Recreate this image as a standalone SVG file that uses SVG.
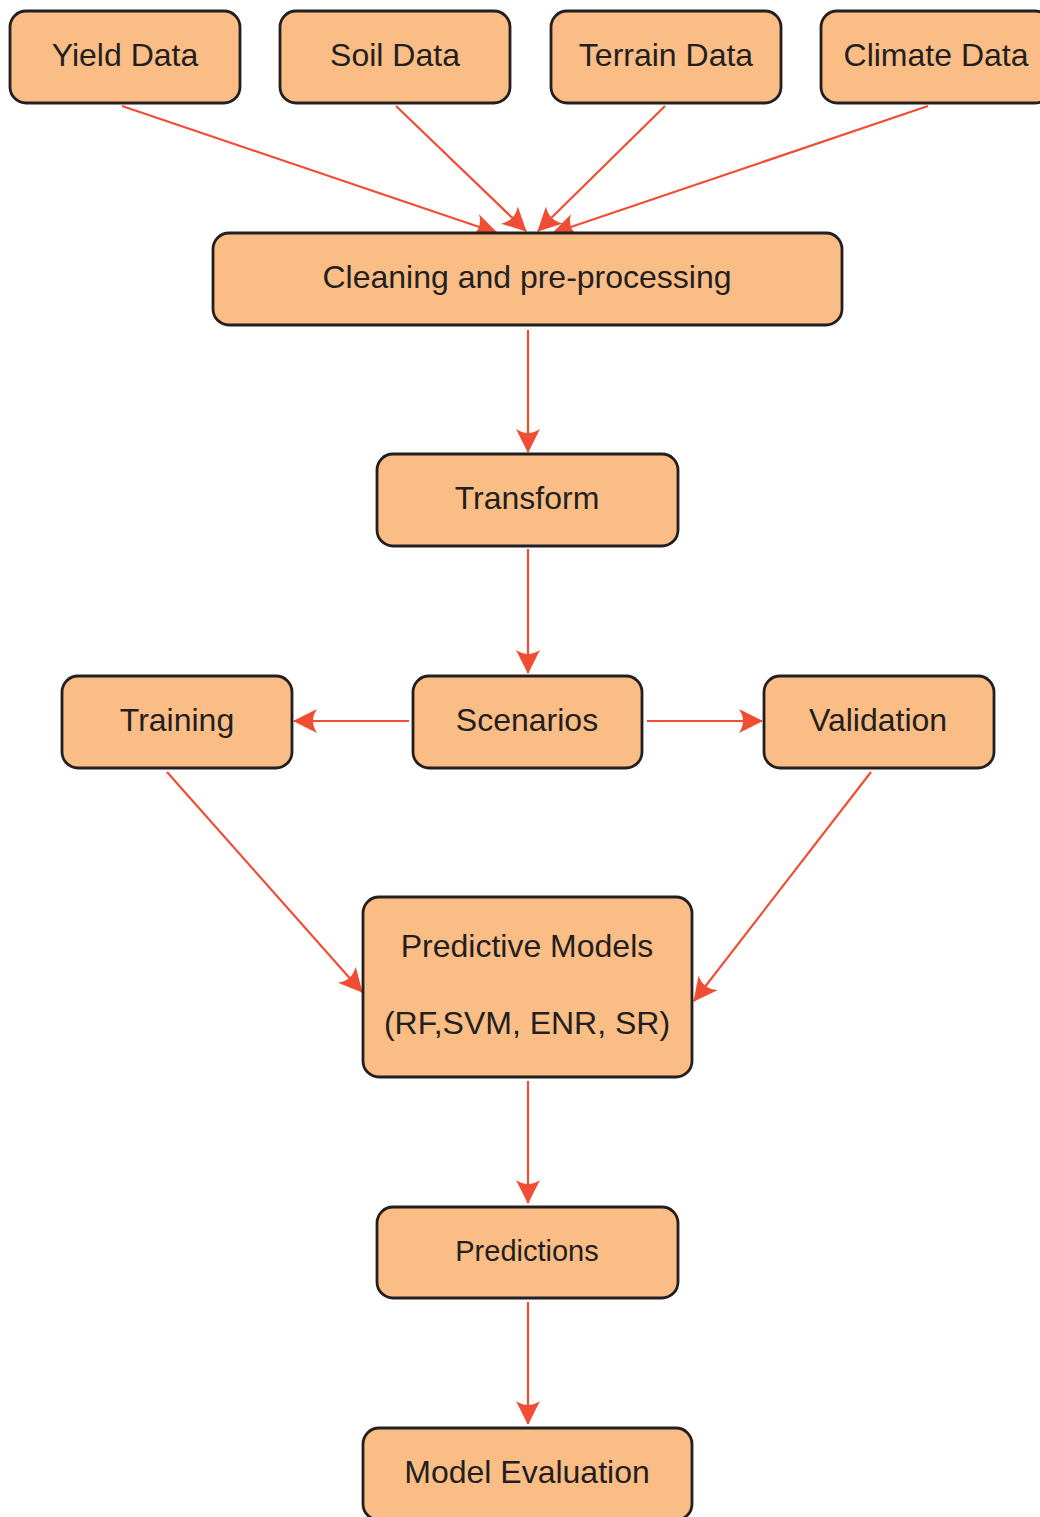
<svg xmlns="http://www.w3.org/2000/svg" width="1040" height="1517" viewBox="0 0 1040 1517">
<defs>
<style>
.n rect{fill:#FABD86;stroke:#231F20;stroke-width:2.8}
.n text{font-family:"Liberation Sans",Arial,sans-serif;font-size:32px;fill:#231F20;text-anchor:middle}
.e line{stroke:#EF4E35;stroke-width:2.2;fill:none;marker-end:url(#ah)}
</style>
<marker id="ah" viewBox="0 0 24 24" refX="23" refY="12" markerWidth="24" markerHeight="24" markerUnits="userSpaceOnUse" orient="auto">
<path d="M0,0 L24,12 L0,24 Q8,12 0,0 z" fill="#EF4E35"/>
</marker>
</defs>
<rect width="1040" height="1517" fill="#fff"/>
<g id="edges" class="e">
<line x1="122" y1="106" x2="497" y2="233"/>
<line x1="396" y1="106" x2="526" y2="231"/>
<line x1="665" y1="106" x2="538" y2="231"/>
<line x1="928" y1="106" x2="553" y2="233"/>
<line x1="528" y1="330" x2="528" y2="452"/>
<line x1="528" y1="549" x2="528" y2="673"/>
<line x1="409" y1="721" x2="294" y2="721"/>
<line x1="647" y1="721" x2="762" y2="721"/>
<line x1="167" y1="772" x2="362" y2="992"/>
<line x1="871" y1="772" x2="694" y2="1001"/>
<line x1="528" y1="1081" x2="528" y2="1203"/>
<line x1="528" y1="1302" x2="528" y2="1424"/>
</g>
<g id="yield" class="n"><rect x="10" y="11" width="230" height="92" rx="16"/><text x="125" y="66">Yield Data</text></g>
<g id="soil" class="n"><rect x="280" y="11" width="230" height="92" rx="16"/><text x="395" y="66">Soil Data</text></g>
<g id="terrain" class="n"><rect x="551" y="11" width="230" height="92" rx="16"/><text x="666" y="66">Terrain Data</text></g>
<g id="climate" class="n"><rect x="821" y="11" width="230" height="92" rx="16"/><text x="936" y="66">Climate Data</text></g>
<g id="cleaning" class="n"><rect x="213" y="233" width="629" height="92" rx="16"/><text x="527" y="288">Cleaning and pre-processing</text></g>
<g id="transform" class="n"><rect x="377" y="454" width="301" height="92" rx="16"/><text x="527" y="509">Transform</text></g>
<g id="training" class="n"><rect x="62" y="676" width="230" height="92" rx="16"/><text x="177" y="731">Training</text></g>
<g id="scenarios" class="n"><rect x="413" y="676" width="229" height="92" rx="16"/><text x="527" y="731">Scenarios</text></g>
<g id="validation" class="n"><rect x="764" y="676" width="230" height="92" rx="16"/><text x="878" y="731">Validation</text></g>
<g id="predictive" class="n"><rect x="363" y="897" width="329" height="180" rx="16"/><text x="527" y="957">Predictive Models</text><text x="527" y="1034">(RF,SVM, ENR, SR)</text></g>
<g id="predictions" class="n"><rect x="377" y="1207" width="301" height="91" rx="16"/><text x="527" y="1261" style="font-size:29px">Predictions</text></g>
<g id="evaluation" class="n"><rect x="363" y="1428" width="329" height="92" rx="16"/><text x="527" y="1483">Model Evaluation</text></g>
</svg>
